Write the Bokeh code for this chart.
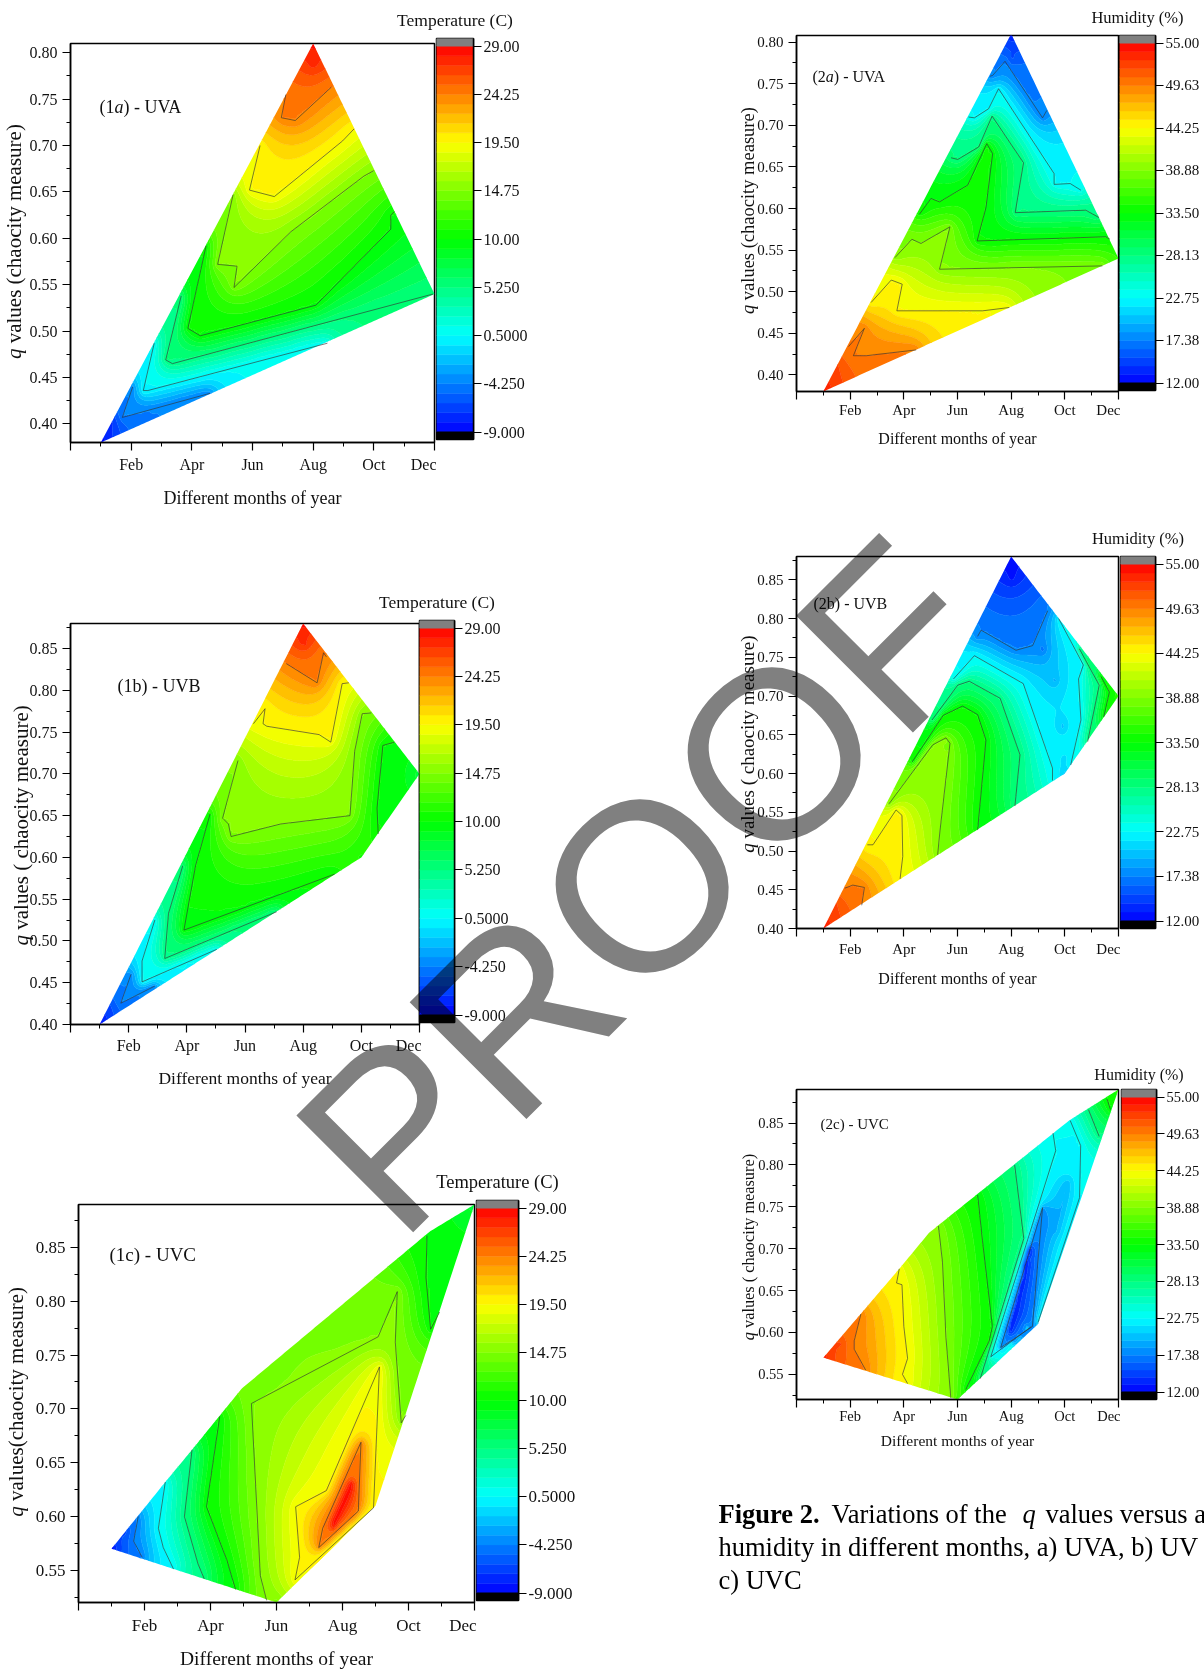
import numpy as np
from bokeh.plotting import figure
from bokeh.models import FixedTicker, Label, NumeralTickFormatter
from bokeh.core.properties import value
from bokeh.embed import file_html
from bokeh.resources import INLINE

# ---------- chart values ----------
MONTH_TICKS = [0, 2, 4, 6, 8, 10, 12]
MONTH_MINOR = [1, 3, 5, 7, 9, 11]
MONTH_NAMES = ["", "Feb", "Apr", "Jun", "Aug", "Oct", "Dec"]

TEMP_TICKS = [-9.0, -4.25, 0.5, 5.25, 10.0, 14.75, 19.5, 24.25, 29.0]
TEMP_LABELS = ["-9.000", "-4.250", "0.5000", "5.250", "10.00", "14.75", "19.50", "24.25", "29.00"]
HUM_TICKS = [12.0, 17.38, 22.75, 28.13, 33.5, 38.88, 44.25, 49.63, 55.0]
HUM_LABELS = ["12.00", "17.38", "22.75", "28.13", "33.50", "38.88", "44.25", "49.63", "55.00"]

Q_TICKS_A = [0.40, 0.45, 0.50, 0.55, 0.60, 0.65, 0.70, 0.75, 0.80]
Q_TICKS_B = [0.40, 0.45, 0.50, 0.55, 0.60, 0.65, 0.70, 0.75, 0.80, 0.85]
Q_TICKS_C = [0.55, 0.60, 0.65, 0.70, 0.75, 0.80, 0.85]

# hull of each map: (month, q) along the upper and the lower edge
UP_1A = [(1, .38), (8, .81), (12, .54)]
LO_1A = [(1, .38), (12, .54)]
UP_1B = [(1, .40), (8, .88), (12, .70)]
LO_1B = [(1, .40), (10, .60), (12, .70)]
UP_1C = [(1, .57), (2.63, .632), (3.44, .662), (4.26, .693), (4.95, .719), (10.65, .865), (12, .89)]
LO_1C = [(1, .57), (6, .52), (9, .61), (12, .89)]
UP_2A = [(1, .38), (8, .81), (12, .54)]
LO_2A = [(1, .38), (12, .54)]
UP_2B = [(1, .40), (8, .88), (12, .70)]
LO_2B = [(1, .40), (10, .60), (12, .70)]
UP_2C = [(1, .57), (3.83, .676), (4.94, .719), (10.16, .853), (12, .89)]
LO_2C = [(1, .57), (6, .52), (9, .61), (12, .89)]

# contour lines: (level, [(month, q), ...])
LINES_1A = [
    (-4.25, [(2.05, .44), (1.71, .407), (4.6, .433)]),
    (0.5, [(2.76, .487), (2.4, .436), (2.55, .436), (8.47, .487)]),
    (5.25, [(3.65, .538), (3.14, .469), (3.36, .465), (11.95, .54)]),
    (10.0, [(4.47, .592), (3.87, .503), (4.28, .495), (8.09, .528), (10.56, .61), (10.56, .625), (10.68, .629)]),
    (14.75, [(5.36, .647), (4.85, .572), (5.49, .57), (5.39, .547), (7.26, .607), (9.67, .667), (10.0, .673)]),
    (19.5, [(6.25, .70), (5.9, .652), (6.72, .645), (8.97, .705), (9.35, .718)]),
    (24.25, [(7.1, .755), (6.95, .73), (7.41, .727), (8.6, .763)]),
]
LINES_1B = [
    (-4.25, [(2.08, .46), (1.73, .4255), (2.9, .446)]),
    (0.5, [(2.9, .525), (2.46, .476), (2.46, .451), (5.03, .49)]),
    (5.25, [(3.86, .59), (3.37, .533), (3.24, .479), (7.09, .535)]),
    (10.0, [(4.8, .652), (4.3, .59), (3.9, .513), (9.08, .58)]),
    (10.0, [(11.14, .738), (10.74, .734), (10.54, .659), (10.58, .628)]),
    (14.75, [(5.76, .716), (5.23, .647), (5.43, .64), (5.52, .625), (7.22, .64), (9.61, .65), (9.77, .727), (10.03, .772), (10.34, .773)]),
    (19.5, [(6.29, .76), (6.69, .778), (6.62, .76), (6.75, .757), (8.55, .747), (8.95, .738), (9.34, .808), (9.57, .809)]),
    (24.25, [(7.42, .832), (8.48, .809), (8.7, .845), (8.8, .84)]),
]
LINES_1C = [
    (-4.25, [(1.81, .60), (1.67, .577), (1.93, .562)]),
    (0.5, [(2.63, .632), (2.42, .589), (2.57, .571), (2.88, .551)]),
    (5.25, [(3.44, .662), (3.21, .60), (3.62, .556), (3.81, .542)]),
    (10.0, [(4.28, .693), (3.88, .609), (4.49, .56), (4.76, .532)]),
    (10.0, [(10.56, .861), (10.53, .822), (10.67, .774), (10.94, .79)]),
    (14.75, [(5.7, .522), (5.51, .545), (5.24, .705), (9.08, .767), (9.66, .809), (9.6, .762), (9.78, .687), (9.92, .694)]),
    (19.5, [(6.56, .541), (6.7, .562), (6.58, .609), (7.51, .624), (9.12, .739), (8.94, .608), (6.56, .541)]),
    (24.25, [(7.28, .571), (7.4, .589), (8.56, .669), (8.48, .605), (7.28, .571)]),
]
LINES_2A = [
    (17.38, [(7.21, .759), (7.31, .76), (7.77, .777), (9.17, .709), (9.33, .718)]),
    (22.75, [(6.41, .71), (6.63, .709), (7.16, .72), (7.53, .744), (9.6, .642), (9.6, .629), (10.2, .63), (10.6, .622)]),
    (28.13, [(5.76, .661), (6.01, .659), (6.79, .674), (7.29, .711), (8.46, .655), (8.15, .595), (10.78, .598), (11.28, .589)]),
    (33.5, [(4.58, .593), (5.01, .612), (5.33, .608), (6.38, .628), (7.09, .678), (7.31, .666), (7.06, .601), (6.73, .561), (11.53, .566), (11.68, .563)]),
    (38.88, [(3.67, .541), (4.3, .563), (4.64, .558), (5.72, .578), (5.33, .527), (11.4, .531)]),
    (44.25, [(2.78, .487), (3.53, .514), (3.94, .509), (3.74, .477), (6.94, .477), (7.93, .481)]),
    (49.63, [(1.94, .434), (2.53, .456), (2.12, .423), (2.6, .423), (4.46, .43)]),
]
LINES_2B = [
    (17.38, [(6.75, .777), (6.88, .785), (8.18, .759), (8.8, .765), (9.36, .81)]),
    (22.75, [(5.85, .722), (6.63, .752), (8.45, .716), (9.54, .607), (9.54, .591)]),
    (22.75, [(9.77, .80), (10.69, .74), (10.51, .722), (10.6, .669), (10.22, .611)]),
    (28.13, [(5.05, .669), (6.01, .714), (6.44, .719), (7.59, .697), (8.33, .624), (8.14, .558)]),
    (28.13, [(10.54, .761), (11.28, .714), (10.85, .641)]),
    (33.5, [(4.31, .615), (5.47, .675), (6.19, .687), (6.75, .676), (7.06, .643), (6.75, .527)]),
    (33.5, [(11.35, .725), (11.66, .705), (11.45, .673)]),
    (38.88, [(3.45, .561), (5.08, .637), (5.57, .646), (5.72, .639), (5.35, .527), (5.26, .495)]),
    (44.25, [(2.64, .508), (2.85, .508), (3.71, .553), (3.93, .546), (3.96, .493), (3.86, .464)]),
    (49.63, [(1.8, .452), (2.1, .456), (2.53, .453), (2.43, .43)]),
]
LINES_2C = [
    (49.63, [(2.4, .622), (2.15, .59), (2.15, .58), (2.58, .555)]),
    (44.25, [(3.83, .676), (3.73, .659), (3.93, .657), (4.0, .607), (4.14, .569), (3.95, .55), (4.14, .539)]),
    (38.88, [(5.29, .727), (5.44, .684), (5.57, .594), (5.75, .522)]),
    (33.5, [(6.75, .764), (6.93, .71), (7.3, .607), (7.18, .59), (6.31, .532)]),
    (33.5, [(11.57, .879), (11.7, .866)]),
    (28.13, [(8.13, .80), (8.47, .712), (6.85, .545)]),
    (28.13, [(10.88, .866), (11.28, .834)]),
    (22.75, [(9.56, .838), (9.66, .817), (7.24, .571), (8.75, .607)]),
    (22.75, [(10.2, .853), (10.59, .823), (10.55, .761), (9.0, .612)]),
    (17.38, [(9.17, .749), (8.79, .607), (7.61, .582), (9.17, .749)]),
]

# values at the corners and extreme spots of each map: (level, [(month, q), ...])
SPOTS_1A = [(-9.0, [(1, .38)]), (-7.5, [(1.3, .395), (1.35, .405)]), (29.0, [(8, .81)]),
            (27.5, [(7.9, .785), (8.1, .785)]), (5.5, [(12, .54)])]
SPOTS_1B = [(-9.0, [(1, .40)]), (-7.0, [(1.3, .42)]), (29.0, [(8, .88)]), (27.5, [(7.9, .855), (8.1, .855)]),
            (7.0, [(12, .70)]), (10.5, [(10, .60)])]
SPOTS_1C = [(-9.0, [(1, .57)]), (-7.0, [(1.4, .585)]), (7.0, [(12, .89)]), (14.0, [(6, .52)]),
            (28.5, [(7.7, .59), (8.3, .63)])]
SPOTS_2A = [(54.5, [(1, .38)]), (52.5, [(1.35, .405), (1.45, .41)]), (12.5, [(8, .81)]), (14.0, [(8, .78)]),
            (35.5, [(12, .54)])]
SPOTS_2B = [(54.5, [(1, .40)]), (52.5, [(1.4, .43)]), (12.5, [(8, .88), (8.0, .85)]), (36.0, [(12, .70)]),
            (19.5, [(10, .60)]), (16.0, [(9.2, .76)]), (18.5, [(9.6, .72)]), (19.5, [(9.9, .66)]), (20.5, [(10, .62)])]
SPOTS_2C = [(54.0, [(1, .57)]), (52.5, [(1.6, .585)]), (36.0, [(12, .89)]), (35.0, [(6, .52)]),
            (13.0, [(7.95, .6), (8.7, .70)]), (25.0, [(8.0, .58)]), (20.5, [(9, .61)]), (19.5, [(9.7, .72), (10.1, .78)])]

# ---------- helpers ----------
FONT = "Liberation Serif"
N_BANDS = 40
RAMP = [(0, 0, 255), (0, 128, 255), (0, 255, 255), (0, 255, 128), (0, 255, 0),
        (128, 255, 0), (255, 255, 0), (255, 128, 0), (255, 0, 0)]


def ramp_color(t):
    t = min(max(t, 0.0), 1.0) * 8
    i = min(int(t), 7)
    f = t - i
    c = [int(round(RAMP[i][k] + (RAMP[i + 1][k] - RAMP[i][k]) * f)) for k in range(3)]
    return "#%02x%02x%02x" % tuple(c)


def field(up, lo, lines, spots, ymin, ymax):
    nx, ny = 181, 181
    gx = np.linspace(1, 12, nx)
    gy = np.linspace(ymin, ymax, ny)
    hi_g = np.interp(gx, *zip(*up))
    lo_g = np.interp(gx, *zip(*lo))
    Y = gy[None, :]
    mask = (Y >= lo_g[:, None]) & (Y <= hi_g[:, None])
    for _ in range(3):
        m = mask.copy()
        m[1:, :] |= mask[:-1, :]
        m[:-1, :] |= mask[1:, :]
        m[:, 1:] |= mask[:, :-1]
        m[:, :-1] |= mask[:, 1:]
        mask = m
    fixed = np.zeros((nx, ny), bool)
    z = np.zeros((nx, ny))
    pts = []
    for level, pl in list(lines) + list(spots):
        pl = np.array(pl, float)
        if len(pl) == 1:
            samples = pl
        else:
            samples = []
            for a, b in zip(pl[:-1], pl[1:]):
                for t in np.linspace(0, 1, 40):
                    samples.append(a + (b - a) * t)
            samples = np.array(samples)
        ix = np.clip(np.round((samples[:, 0] - 1) / 11 * (nx - 1)).astype(int), 0, nx - 1)
        iy = np.clip(np.round((samples[:, 1] - ymin) / (ymax - ymin) * (ny - 1)).astype(int), 0, ny - 1)
        fixed[ix, iy] = True
        z[ix, iy] = level
        pts.extend((i, j, level) for i, j in zip(ix[::4], iy[::4]))
    pts = np.array(pts, float)
    I, J = np.meshgrid(np.arange(nx), np.arange(ny), indexing="ij")
    d2 = (I[..., None] - pts[:, 0]) ** 2 + (J[..., None] - pts[:, 1]) ** 2 + 0.5
    w = 1.0 / d2 ** 2
    init = (w * pts[:, 2]).sum(-1) / w.sum(-1)
    z = np.where(fixed, z, init)
    mf = mask.astype(float)
    cnt = np.zeros_like(mf)
    cnt[1:, :] += mf[:-1, :]
    cnt[:-1, :] += mf[1:, :]
    cnt[:, 1:] += mf[:, :-1]
    cnt[:, :-1] += mf[:, 1:]
    cnt[cnt == 0] = 1
    free = mask & ~fixed
    for _ in range(2200):
        zm = z * mf
        s = np.zeros_like(z)
        s[1:, :] += zm[:-1, :]
        s[:-1, :] += zm[1:, :]
        s[:, 1:] += zm[:, :-1]
        s[:, :-1] += zm[:, 1:]
        z[free] = (s / cnt)[free]
    # curvilinear mesh following the hull
    xs_h = sorted(set([p[0] for p in up] + [p[0] for p in lo]))
    mx = np.unique(np.concatenate([np.linspace(1, 12, 133), xs_h]))
    hi = np.interp(mx, *zip(*up))
    low = np.interp(mx, *zip(*lo))
    f = np.linspace(0, 1, 61)
    MX = np.repeat(mx[None, :], len(f), axis=0)
    MY = low[None, :] + (hi - low)[None, :] * f[:, None]
    u = (MX - 1) / 11 * (nx - 1)
    v = (MY - ymin) / (ymax - ymin) * (ny - 1)
    i0 = np.clip(np.floor(u).astype(int), 0, nx - 2)
    j0 = np.clip(np.floor(v).astype(int), 0, ny - 2)
    du, dv = u - i0, v - j0
    Z = (z[i0, j0] * (1 - du) * (1 - dv) + z[i0 + 1, j0] * du * (1 - dv)
         + z[i0, j0 + 1] * (1 - du) * dv + z[i0 + 1, j0 + 1] * du * dv)
    return MX, MY, Z


def put(fig, x, y):
    fig.styles = {"position": "absolute", "left": f"{x}px", "top": f"{y}px"}
    return fig


# transparent page-wide figure holding the rotated axis titles
page = figure(frame_width=1204, frame_height=1670, x_range=(0, 1204), y_range=(1670, 0),
              x_axis_location=None, y_axis_location=None, min_border=0, toolbar_location=None,
              output_backend="svg", background_fill_color=None, border_fill_color=None, outline_line_color=None)
page.grid.visible = False


def panel(L, R, T, B, ymin, ymax, qticks, up, lo, lines, spots, cticks, clabels, ctitle,
          cbL, cbR, cbT, cbB, tick_fs, xlab_fs, ylab_fs, ylab_px, ylab_cy, ylab_rest, q_gap,
          pan_px, pan_py, pan_fs, pan_parts, tick_standoff, label_standoff, title_standoff):
    vmin, vmax = cticks[0], cticks[-1]
    levels = list(np.linspace(vmin, vmax, N_BANDS + 1))
    colors = [ramp_color((i + 0.5) / N_BANDS) for i in range(N_BANDS)]
    line_cols = colors + [colors[-1]]
    LB, BB, TB, RB = 65, 78, 5, 2
    p = figure(frame_width=R - L, frame_height=B - T, x_range=(0, 12), y_range=(ymin, ymax),
               min_border_left=LB, min_border_bottom=BB, min_border_top=TB, min_border_right=RB,
               toolbar_location=None, output_backend="svg", background_fill_color="white",
               border_fill_color=None)
    p.grid.visible = False
    p.outline_line_color = "black"
    p.outline_line_width = 1.5
    X, Y, Z = field(up, lo, lines, spots, ymin, ymax)
    Z = np.clip(Z, vmin + 1e-6, vmax - 1e-6)
    p.contour(X, Y, Z, levels=levels, fill_color=colors, line_color=line_cols, line_width=0.7)
    p.multi_line([[q[0] for q in pl] for _, pl in lines], [[q[1] for q in pl] for _, pl in lines],
                 line_color="#333333", line_width=0.8, line_alpha=0.8)
    # axes
    xa, ya = p.xaxis[0], p.yaxis[0]
    xa.ticker = FixedTicker(ticks=MONTH_TICKS, minor_ticks=MONTH_MINOR)
    xa.major_label_overrides = {k: v for k, v in zip(MONTH_TICKS, MONTH_NAMES)}
    dq = 0.025
    qminor = [q + dq for q in qticks] + [qticks[0] - dq]
    ya.ticker = FixedTicker(ticks=qticks, minor_ticks=[q for q in qminor if ymin <= q <= ymax])
    ya.formatter = NumeralTickFormatter(format="0.00")
    for a in (xa, ya):
        a.major_tick_out, a.major_tick_in = 8, 0
        a.minor_tick_out, a.minor_tick_in = 4, 0
        a.axis_line_width = 1.5
        a.major_tick_line_width = 1.2
        a.minor_tick_line_width = 1.0
        a.major_label_text_font = FONT
        a.major_label_text_font_size = f"{tick_fs}px"
        a.major_label_text_color = "#111111"
    xa.major_label_standoff = tick_standoff
    ya.major_label_standoff = 5
    xa.axis_label = "Different months of year"
    xa.axis_label_text_font = FONT
    xa.axis_label_text_font_style = "normal"
    xa.axis_label_text_font_size = f"{xlab_fs}px"
    xa.axis_label_text_color = "#111111"
    xa.axis_label_standoff = label_standoff

    def dx(px):
        return (px - L) / (R - L) * 12

    def dy(py):
        return ymin + (B - py) / (B - T) * (ymax - ymin)

    # y title with an italic q
    total = ylab_fs * (0.5 + q_gap + 0.418 * len(ylab_rest))
    start = ylab_cy + total / 2
    for tx, py, sty in [("q", start, "italic"), (ylab_rest, start - ylab_fs * (0.5 + q_gap), "normal")]:
        page.text(x=[ylab_px - 0.37 * ylab_fs], y=[py], text=[tx], angle=90, angle_units="deg", text_font=value(FONT),
                  text_font_size=f"{ylab_fs}px", text_font_style=sty, text_color="#111111",
                  text_baseline="alphabetic", text_align="left")
    # panel label
    cx = pan_px
    for txt, style, adv in pan_parts:
        p.add_layout(Label(x=dx(cx), y=dy(pan_py), x_units="data", y_units="data", text=txt,
                           text_font=FONT, text_font_style=style, text_font_size=f"{pan_fs}px",
                           text_color="#111111", text_baseline="alphabetic", text_align="left"))
        cx += adv * pan_fs
    put(p, L - LB, T - TB)

    # colour scale
    span = (cticks[-1] - cticks[0])
    pad = 7.5 / ((cbB - cbT) - 15) * span
    cb = figure(frame_width=cbR - cbL, frame_height=cbB - cbT, x_range=(0, 1),
                y_range=(vmin - pad, vmax + pad), x_axis_location=None, y_axis_location="right",
                min_border_left=45, min_border_right=min(70, 1204 - cbR), min_border_top=50, min_border_bottom=5,
                toolbar_location=None, output_backend="svg", background_fill_color=None, border_fill_color=None)
    cb.grid.visible = False
    cb.outline_line_color = "black"
    cb.outline_line_width = 1.5
    cb.quad(left=0, right=1, bottom=levels[:-1], top=levels[1:], fill_color=colors, line_color=colors, line_width=0.5)
    cb.quad(left=0, right=1, bottom=[vmax], top=[vmax + pad], fill_color="#808080", line_color="#808080")
    cb.quad(left=0, right=1, bottom=[vmin - pad], top=[vmin], fill_color="black", line_color="black")
    ca = cb.yaxis[0]
    ca.ticker = FixedTicker(ticks=cticks)
    ca.major_label_overrides = {k: v for k, v in zip(cticks, clabels)}
    ca.major_tick_out, ca.major_tick_in = 8, 0
    ca.minor_tick_out, ca.minor_tick_in = 0, 0
    ca.axis_line_width = 1.5
    ca.major_label_text_font = FONT
    ca.major_label_text_font_size = f"{tick_fs}px"
    ca.major_label_text_color = "#111111"
    ca.major_label_standoff = 2
    cb.title.text = ctitle
    cb.title.align = "center"
    cb.title.text_font = FONT
    cb.title.text_font_style = "normal"
    cb.title.text_font_size = f"{tick_fs + 1.5}px"
    cb.title.text_color = "#111111"
    cb.title.standoff = title_standoff
    put(cb, cbL - 45, cbT - 50)
    return [p, cb]


A_1 = [("(1", "normal", 0.833), ("a", "italic", 0.5), (") - UVA", "normal", 0)]
A_2 = [("(2", "normal", 0.833), ("a", "italic", 0.5), (") - UVA", "normal", 0)]

figs = []
figs += panel(70, 434, 43, 442, .38, .81, Q_TICKS_A, UP_1A, LO_1A, LINES_1A, SPOTS_1A, TEMP_TICKS, TEMP_LABELS,
              "Temperature (C)", 436, 473, 38, 439, 16, 18, 21, 21, 241, "values (chaocity measure)", .25,
              99, 106, 18, A_1, 5, 12, 18)
figs += panel(70, 419, 623, 1024, .40, .88, Q_TICKS_B, UP_1B, LO_1B, LINES_1B, SPOTS_1B, TEMP_TICKS, TEMP_LABELS,
              "Temperature (C)", 419, 454, 620, 1022, 16, 17.5, 21, 28, 823, "values ( chaocity measure)", .25,
              117, 685, 18, [("(1b) - UVB", "normal", 0)], 4, 11, 18)
figs += panel(78, 474, 1204, 1602, .52, .89, Q_TICKS_C, UP_1C, LO_1C, LINES_1C, SPOTS_1C, TEMP_TICKS, TEMP_LABELS,
              "Temperature (C)", 476, 518, 1200, 1600, 17, 19.5, 21, 23, 1403, "values(chaocity measure)", .25,
              109, 1254, 19, [("(1c) - UVC", "normal", 0)], 5, 10, 18)
figs += panel(796, 1118, 35, 391, .38, .808, Q_TICKS_A, UP_2A, LO_2A, LINES_2A, SPOTS_2A, HUM_TICKS, HUM_LABELS,
              "Humidity (%)", 1119, 1155, 35, 390, 15, 16, 18.5, 754, 210, "values (chaocity measure)", .25,
              812, 76, 16, A_2, 2, 9, 17)
figs += panel(796, 1118, 556, 928, .40, .88, Q_TICKS_B, UP_2B, LO_2B, LINES_2B, SPOTS_2B, HUM_TICKS, HUM_LABELS,
              "Humidity (%)", 1120, 1155, 556, 928, 15, 16, 19, 754, 742, "values ( chaocity measure)", .25,
              813, 603, 16, [("(2b) - UVB", "normal", 0)], 4, 10, 17)
figs += panel(796, 1118, 1089, 1399, .52, .89, Q_TICKS_C, UP_2C, LO_2C, LINES_2C, SPOTS_2C, HUM_TICKS, HUM_LABELS,
              "Humidity (%)", 1121, 1156, 1089, 1399, 14.5, 15.5, 16.3, 754, 1245, "values ( chaocity measure)", .25,
              820, 1123, 15, [("(2c) - UVC", "normal", 0)], 0, 5, 13)

put(page, 0, 0)
figs.append(page)

# caption
cap = figure(frame_width=1204 - 700, frame_height=120, x_range=(700, 1204), y_range=(1610, 1490),
             x_axis_location=None, y_axis_location=None, min_border=0, toolbar_location=None,
             output_backend="svg", background_fill_color=None, border_fill_color=None, outline_line_color=None)
cap.grid.visible = False
for tx, px, py, sty in [("Figure 2.", 718, 1513, "bold"), ("Variations of the", 831, 1513, "normal"),
                        ("q", 1022, 1513, "italic"), ("values versus a", 1045, 1513, "normal"),
                        ("humidity in different months, a) UVA, b) UV", 718, 1546, "normal"),
                        ("c) UVC", 718, 1579, "normal")]:
    cap.text(x=[px], y=[py], text=[tx], text_font=value(FONT), text_font_size="26.5px", text_font_style=sty,
             text_color="black", text_baseline="alphabetic", text_align="left")
put(cap, 700, 1490)
figs.append(cap)

# watermark on top of everything
wm = figure(frame_width=1204, frame_height=1670, x_range=(0, 1204), y_range=(1670, 0),
            x_axis_location=None, y_axis_location=None, min_border=0, toolbar_location=None,
            output_backend="svg", background_fill_color=None, border_fill_color=None, outline_line_color=None)
wm.grid.visible = False
wm.text(x=[340], y=[1187], text=["PROOF"], angle=45, angle_units="deg", text_font=value("Liberation Sans"),
        text_font_size="240px", text_color="#808080", text_baseline="alphabetic", text_align="left")
put(wm, 0, 0)
wm.styles = dict(wm.styles, **{"mix-blend-mode": "multiply", "pointer-events": "none"})
figs.append(wm)

open("out.html", "w").write(file_html(figs, INLINE))
